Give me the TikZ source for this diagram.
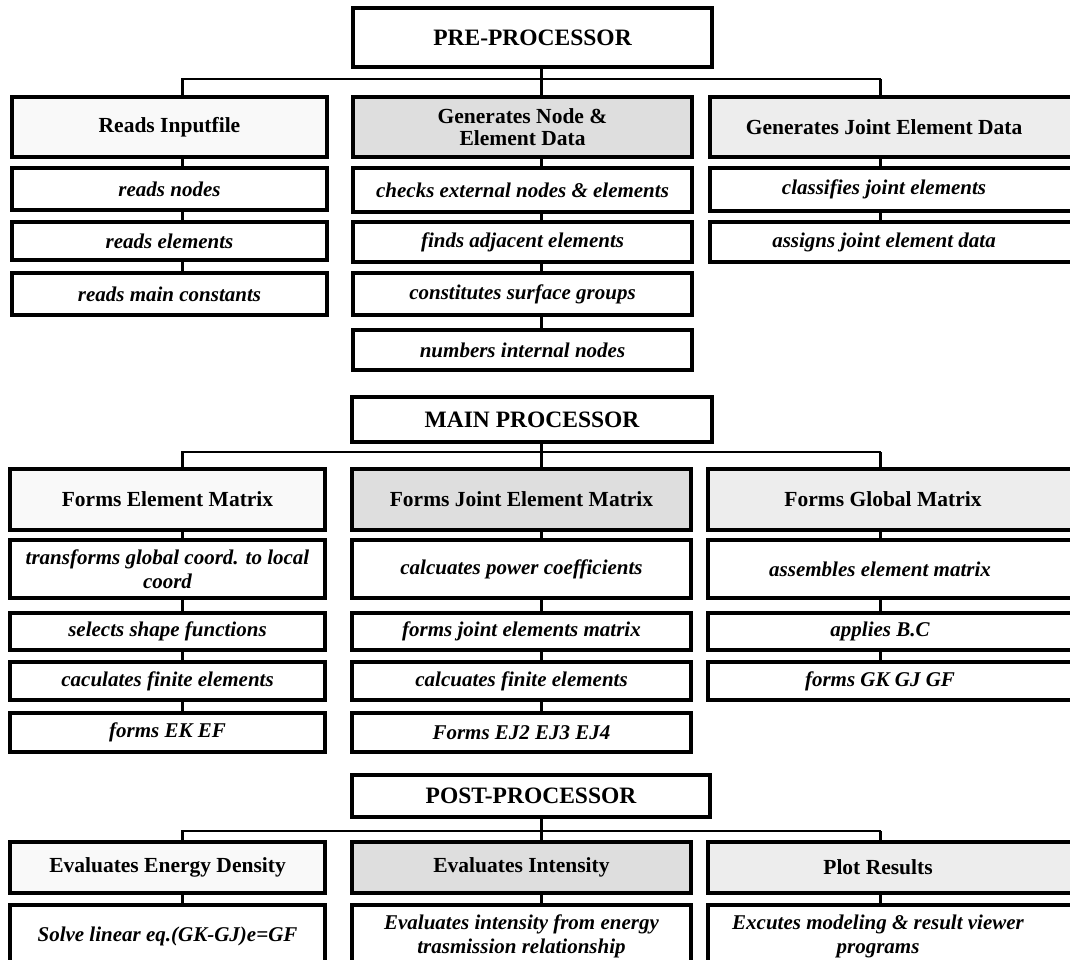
\documentclass[tikz,border=0pt]{standalone}
\usepackage{fontspec}
\setmainfont{Liberation Serif}
\usetikzlibrary{backgrounds}
\tikzset{
  box/.style={draw=black, line width=3.2pt, inner sep=2pt, align=center,
    font=\bfseries\itshape\fontsize{21}{24}\selectfont},
  hbox/.style={box, font=\bfseries\fontsize{21.5}{22}\selectfont},
  tbox/.style={box, font=\bfseries\fontsize{23.5}{25}\selectfont},
  light/.style={fill=gray!5},
  midshade/.style={fill=gray!26},
  openbox/.style={draw=none, fill=none, outer sep=0pt},
  frame/.style={draw=black, line width=3.2pt},
  link/.style={line width=3pt},
  bar/.style={line width=2.4pt, line cap=rect},
}
\newcommand\mkbox[7][]{\node[#1, minimum width={#5pt-#3pt}, minimum height={#6pt-#4pt}] (#2) at ({(#3+#5)/2},{(#4+#6)/2}) {#7};}
\begin{document}
\begin{tikzpicture}[x=1pt,y=-1pt]
\useasboundingbox (0,0) rectangle (1070,960);
\clip (0,0) rectangle (1070,960);
\coordinate (xL) at (182,0);
\coordinate (xM) at (541,0);
\coordinate (xR) at (880,0);
\coordinate (barA) at (0,79);
\coordinate (barB) at (0,452);
\coordinate (barC) at (0,831);

% ---------- PRE-PROCESSOR ----------
\mkbox[tbox]{pre}{353}{8}{712}{67}{PRE-PROCESSOR}
\mkbox[hbox,light]{h1}{12}{97}{327}{157}{Reads Inputfile}
\mkbox[hbox,midshade]{h2}{353}{97}{692}{157}{Generates Node \&\\Element Data}
\mkbox[hbox,openbox]{h3}{710}{97}{1058}{157}{Generates Joint Element Data}
\mkbox[box]{a1}{12}{168}{327}{210}{reads nodes}
\mkbox[box]{a2}{12}{222}{327}{260}{reads elements}
\mkbox[box]{a3}{12}{273}{327}{315}{reads main constants}
\mkbox[box]{b1}{353}{168}{692}{212}{checks external nodes \& elements}
\mkbox[box]{b2}{353}{222}{692}{262}{finds adjacent elements}
\mkbox[box]{b3}{353}{273}{692}{315}{constitutes surface groups}
\mkbox[box]{b4}{353}{330}{692}{370}{numbers internal nodes}
\mkbox[box,openbox]{c1}{710}{168}{1058}{211}{classifies joint elements}
\mkbox[box,openbox]{c2}{710}{222}{1058}{262}{assigns joint element data}

% ---------- MAIN PROCESSOR ----------
\mkbox[tbox]{mainp}{352}{397}{712}{442}{MAIN PROCESSOR}
\mkbox[hbox,light]{m1}{10}{469}{325}{530}{Forms Element Matrix}
\mkbox[hbox,midshade]{m2}{352}{469}{691}{530}{Forms Joint Element Matrix}
\mkbox[hbox,openbox]{m3}{708}{469}{1058}{530}{Forms Global Matrix}
\mkbox[box]{d1}{10}{540}{325}{598}{transforms global coord. to local\\coord}
\mkbox[box]{d2}{10}{613}{325}{650}{selects shape functions}
\mkbox[box]{d3}{10}{662}{325}{700}{caculates finite elements}
\mkbox[box]{d4}{10}{713}{325}{752}{forms EK EF}
\mkbox[box]{e1}{352}{540}{691}{598}{calcuates power coefficients}
\mkbox[box]{e2}{352}{613}{691}{650}{forms joint elements matrix}
\mkbox[box]{e3}{352}{662}{691}{700}{calcuates finite elements}
\mkbox[box]{e4}{352}{713}{691}{752}{Forms EJ2 EJ3 EJ4}
\mkbox[box,openbox]{f1}{708}{540}{1052}{598}{assembles element matrix}
\mkbox[box,openbox]{f2}{708}{613}{1052}{650}{applies B.C}
\mkbox[box,openbox]{f3}{708}{662}{1052}{700}{forms GK GJ GF}

% ---------- POST-PROCESSOR ----------
\mkbox[tbox]{post}{352}{775}{710}{817}{POST-PROCESSOR}
\mkbox[hbox,light]{p1}{10}{842}{325}{893}{Evaluates Energy Density}
\mkbox[hbox,midshade]{p2}{352}{842}{691}{893}{Evaluates Intensity}
\mkbox[hbox,openbox]{p3}{708}{842}{1048}{893}{Plot Results}
\mkbox[box]{q1}{10}{905}{325}{968}{Solve linear eq.(GK-GJ)e=GF}
\mkbox[box]{q2}{352}{905}{691}{968}{Evaluates intensity from energy\\trasmission relationship}
\mkbox[box,openbox]{q3}{708}{905}{1048}{968}{Excutes modeling \& result viewer\\programs}

% frames of the right column, running off the page edge
\begin{scope}[on background layer]
  \foreach \n/\f in {h3/gray!14, c1/white, c2/white, m3/gray!14, f1/white, f2/white, f3/white, p3/gray!14, q3/white}
    \draw[frame, fill=\f] (\n.north west) rectangle ([xshift=60pt]\n.south east);
\end{scope}

% ---------- connectors ----------
\foreach \t/\b/\l/\m/\r in {pre/barA/h1/h2/h3, mainp/barB/m1/m2/m3, post/barC/p1/p2/p3}{
  \draw[link] (\t.south -| xM) -- (\b -| xM);
  \draw[bar] (\b -| xL) -- (\b -| xR);
  \draw[link] (\b -| xL) -- (\l.north -| xL);
  \draw[link] (\b -| xM) -- (\m.north -| xM);
  \draw[link] (\b -| xR) -- (\r.north -| xR);
}
\foreach \a/\b in {h1/a1, a1/a2, a2/a3, m1/d1, d1/d2, d2/d3, d3/d4, p1/q1}
  \draw[link] (\a.south -| xL) -- (\b.north -| xL);
\foreach \a/\b in {h2/b1, b1/b2, b2/b3, b3/b4, m2/e1, e1/e2, e2/e3, e3/e4, p2/q2}
  \draw[link] (\a.south -| xM) -- (\b.north -| xM);
\foreach \a/\b in {h3/c1, c1/c2, m3/f1, f1/f2, f2/f3, p3/q3}
  \draw[link] (\a.south -| xR) -- (\b.north -| xR);
\end{tikzpicture}
\end{document}
